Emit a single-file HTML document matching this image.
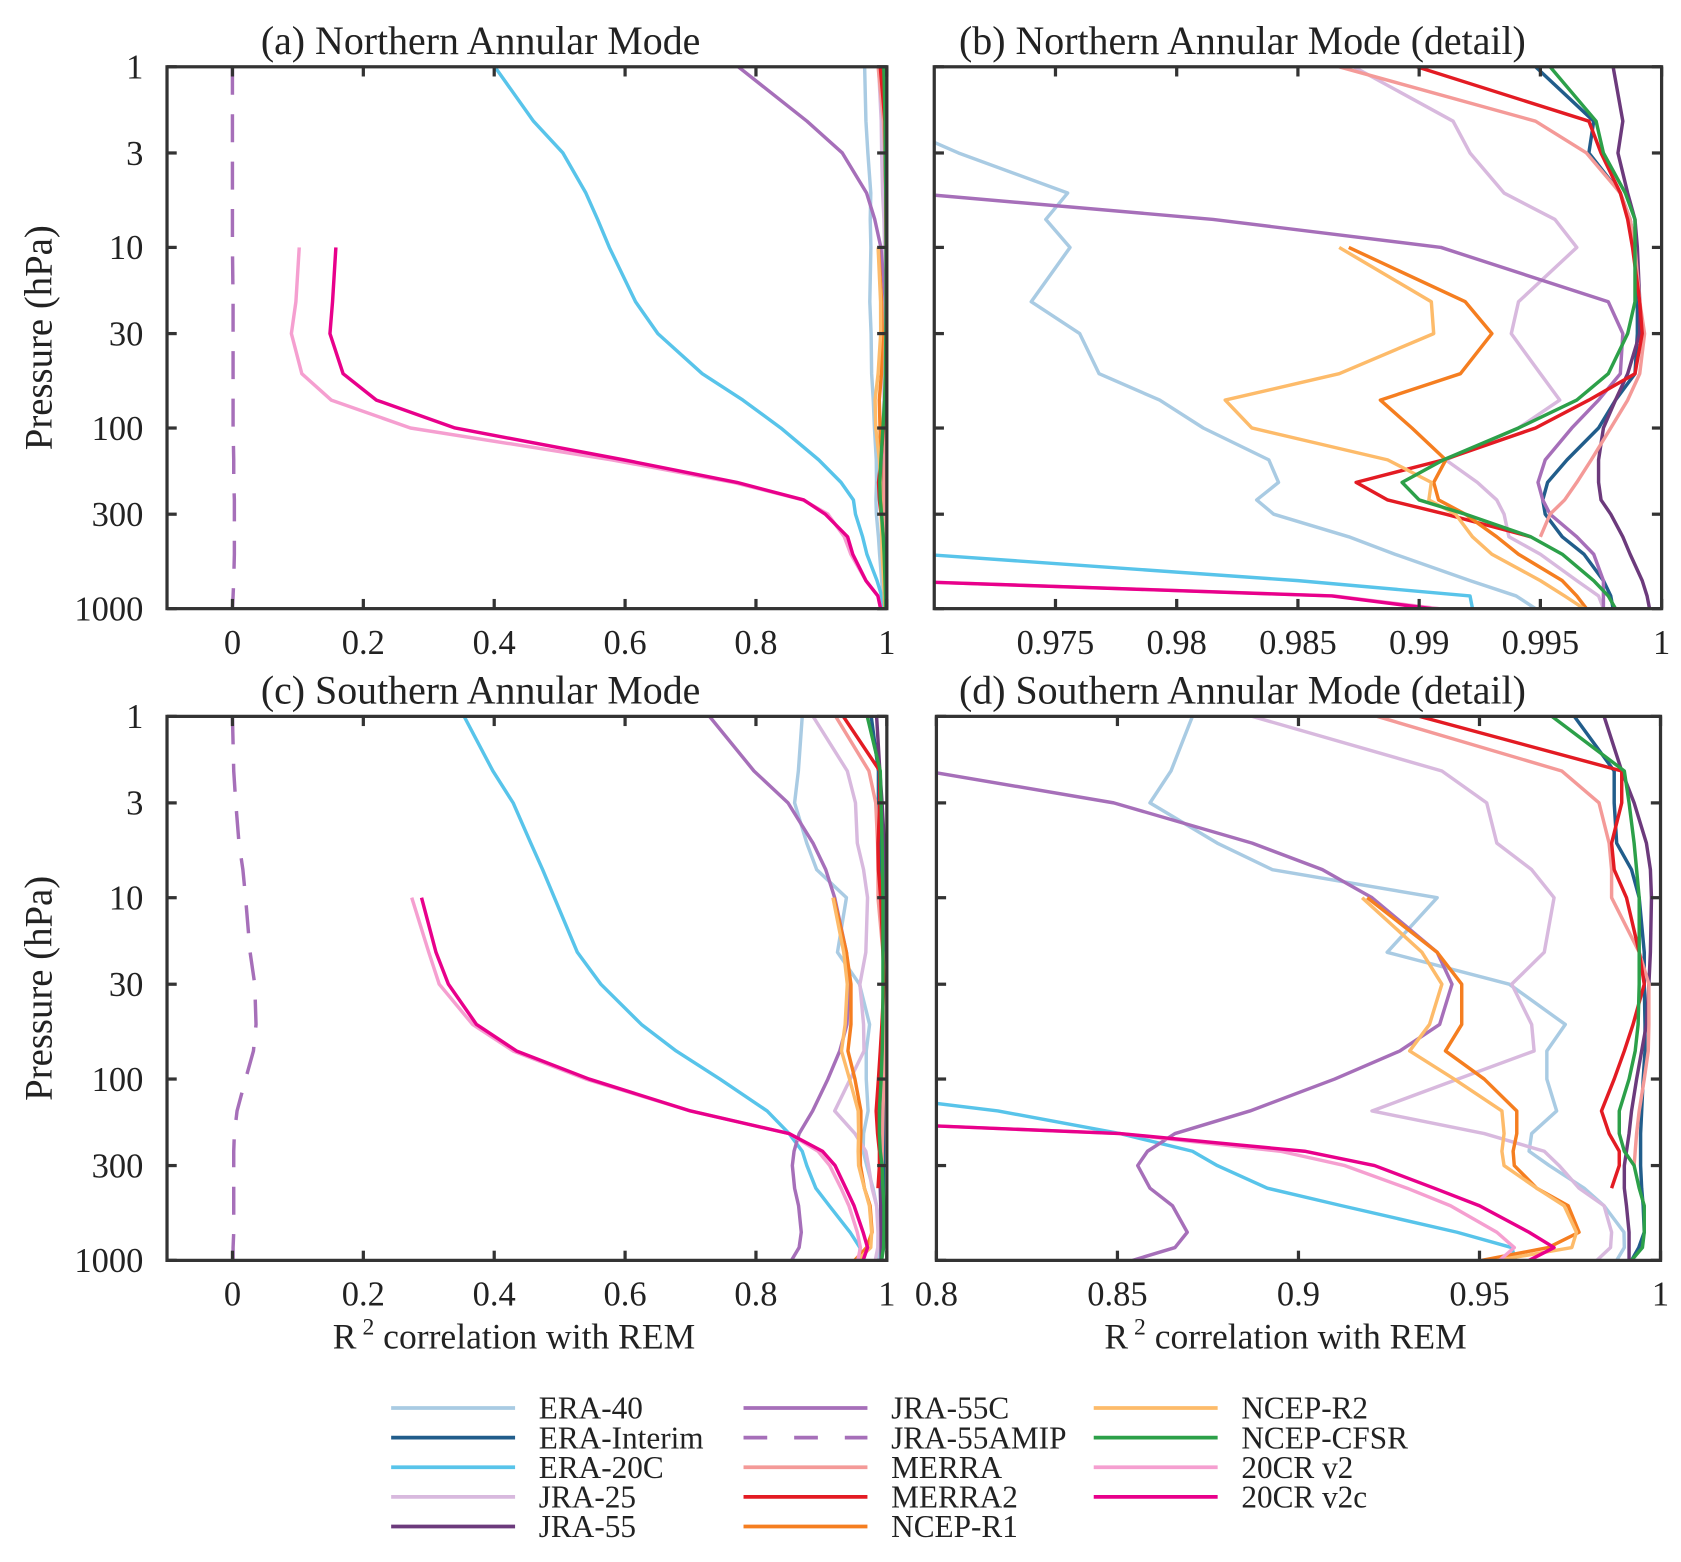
<!DOCTYPE html>
<html><head><meta charset="utf-8"><style>
html,body{margin:0;padding:0;background:#fff;}
svg{display:block;}
text{font-family:"Liberation Serif",serif;fill:#222;}
</style></head>
<body>
<svg id="fig" width="1681" height="1562" viewBox="0 0 1560 1450" preserveAspectRatio="none" xmlns="http://www.w3.org/2000/svg"></svg>
<script>
const levels = [1,2,3,5,7,10,20,30,50,70,100,150,200,250,300,400,500,700,850,1000];
const N = null;
// Northern Annular Mode series
const namERA40 = [0.966,0.968,0.971,0.9755,0.9746,0.9756,0.974,0.976,0.9768,0.9793,0.9811,0.9838,0.9842,0.9833,0.984,0.9871,0.989,0.9921,0.994,0.9948];
const namERAI = [0.9948,0.9972,0.997,0.9983,0.9987,0.9989,0.999,0.999,0.9989,0.9981,0.9974,0.9961,0.9953,0.9951,0.9952,0.9959,0.9968,0.9976,0.9979,0.998];
const namERA20C = [0.401,0.46,0.505,0.54,0.558,0.576,0.616,0.65,0.718,0.78,0.838,0.896,0.93,0.949,0.952,0.963,0.9695,0.985,0.9921,0.9922];
const namJRA25 = [0.9873,0.9914,0.9921,0.9935,0.9956,0.9965,0.9941,0.9938,0.995,0.9958,0.9941,0.9911,0.9924,0.9932,0.9935,0.9937,0.995,0.9965,0.9974,0.9976];
const namJRA55 = [0.998,0.9984,0.9982,0.9986,0.9989,0.999,0.9991,0.9991,0.9986,0.9981,0.9976,0.9974,0.9974,0.9975,0.9979,0.9984,0.9987,0.9992,0.9994,0.9995];
const namJRA55C = [0.773,0.878,0.932,0.969,0.9815,0.9909,0.9978,0.9984,0.9983,0.9974,0.9963,0.9952,0.9949,0.9951,0.9954,0.9965,0.9972,0.9976,0.9976,0.9976];
const namAMIP = [0,0,0,0,0,0,0.001,0.001,0.001,0.001,0.001,0.002,0.002,0.003,0.003,0.003,0.003,0.002,0.001,0];
const namMERRA = [0.9867,0.9948,0.9969,0.9983,0.9987,0.9989,0.9991,0.9993,0.9991,0.9986,0.9979,0.9971,0.9965,0.996,0.9954,0.995,N,N,N,N];
const namMERRA2 = [0.9899,0.997,0.9975,0.9983,0.9986,0.9988,0.9991,0.9992,0.9989,0.997,0.9948,0.991,0.9874,0.9887,0.9911,0.9946,N,N,N,N];
const namNCEPR1 = [N,N,N,N,N,0.9871,0.9919,0.993,0.9917,0.9884,0.9897,0.9911,0.9906,0.9908,0.9919,0.9932,0.9941,0.9959,0.9965,0.9969];
const namNCEPR2 = [N,N,N,N,N,0.9867,0.9905,0.9906,0.9867,0.982,0.9831,0.9887,0.9905,0.9904,0.9915,0.9922,0.993,0.995,0.996,0.9968];
const namCFSR = [0.9954,0.9973,0.9976,0.9985,0.9989,0.9989,0.9989,0.9986,0.9978,0.9965,0.9941,0.991,0.9893,0.99,0.9919,0.9946,0.9959,0.9972,0.9978,0.9981];
const nam20CRv2 = [N,N,N,N,N,0.102,0.097,0.09,0.106,0.151,0.272,0.58,0.765,0.872,0.91,0.935,0.945,0.968,0.9865,0.9908];
const nam20CRv2c = [N,N,N,N,N,0.158,0.153,0.149,0.169,0.22,0.34,0.598,0.771,0.873,0.906,0.94,0.948,0.968,0.9864,0.9905];
// Southern Annular Mode series
const samERA40 = [0.8707,0.8648,0.859,0.8776,0.8928,0.9383,0.9245,0.9582,0.9737,0.9686,0.9686,0.9713,0.9644,0.9637,0.9693,0.9789,0.9844,0.9899,0.99,0.9879];
const samERAI = [0.9762,0.9872,0.9872,0.9879,0.992,0.9941,0.9955,0.9955,0.9957,0.9957,0.9952,0.9948,0.9945,0.9945,0.9945,0.9948,0.9952,0.9955,0.994,0.992];
const samERA20C = [0.354,0.398,0.429,0.456,0.474,0.492,0.527,0.563,0.625,0.678,0.745,0.817,0.8507,0.8707,0.8776,0.8914,0.912,0.9438,0.9589,0.96];
const samJRA25 = [0.8872,0.9396,0.952,0.9548,0.9644,0.9706,0.9679,0.9589,0.9644,0.9651,0.944,0.9203,0.9513,0.9679,0.972,0.9775,0.9844,0.9865,0.9862,0.9824];
const samJRA55 = [0.9844,0.9893,0.9927,0.9961,0.9972,0.9975,0.9972,0.9968,0.9961,0.9948,0.9934,0.992,0.9913,0.9906,0.99,0.99,0.9906,0.9913,0.9913,0.9913];
const samJRA55C = [0.729,0.797,0.849,0.8872,0.9066,0.9203,0.9383,0.9424,0.939,0.928,0.91,0.8866,0.8659,0.8583,0.8556,0.859,0.8652,0.8693,0.8659,0.8542];
const samAMIP = [0,0.002,0.005,0.01,0.016,0.02,0.027,0.034,0.036,0.032,0.02,0.007,0.003,0.002,0.002,0.002,0.002,0.002,0.001,0.001];
const samMERRA = [0.9217,0.9727,0.983,0.9858,0.9865,0.9865,0.9941,0.9968,0.9968,0.9966,0.9955,0.9941,0.9934,0.993,0.9927,N,N,N,N,N];
const samMERRA2 = [0.9334,0.9893,0.9893,0.9865,0.9872,0.9906,0.9941,0.9955,0.9924,0.99,0.9872,0.9837,0.9858,0.9886,0.9886,0.9865,N,N,N,N];
const samNCEPR1 = [N,N,N,N,N,0.919,0.9383,0.9451,0.9451,0.9406,0.9513,0.9603,0.9603,0.9593,0.9596,0.9658,0.9745,0.9775,0.969,0.9507];
const samNCEPR2 = [N,N,N,N,N,0.9176,0.9341,0.9396,0.9362,0.9307,0.943,0.9562,0.9568,0.9562,0.9568,0.9658,0.9734,0.9768,0.9755,0.9548];
const samCFSR = [0.97,0.99,0.9913,0.9927,0.9934,0.9941,0.9941,0.9941,0.9938,0.993,0.9913,0.9886,0.9886,0.99,0.9927,0.9941,0.9955,0.9955,0.995,0.992];
const sam20CRv2 = [N,N,N,N,N,0.274,0.3,0.316,0.367,0.429,0.54,0.70,0.8507,0.895,0.9128,0.93,0.942,0.9548,0.9596,0.9555];
const sam20CRv2c = [N,N,N,N,N,0.289,0.311,0.33,0.373,0.434,0.545,0.70,0.8507,0.9017,0.921,0.9375,0.95,0.9637,0.9706,0.9637];

const seriesNames = ["ERA-40","ERA-Interim","ERA-20C","JRA-25","JRA-55","JRA-55C","JRA-55AMIP","MERRA","MERRA2","NCEP-R1","NCEP-R2","NCEP-CFSR","20CR v2","20CR v2c"];
const seriesColors = ["#a9cbe3","#215d8b","#58c4ea","#d8b9de","#6c3a7c","#a66fb9","#a66fb9","#f49a98","#e31b23","#f57e20","#fdbb6a","#2ca049","#f59fd0","#e8008b"];
const namSeries = [namERA40,namERAI,namERA20C,namJRA25,namJRA55,namJRA55C,namAMIP,namMERRA,namMERRA2,namNCEPR1,namNCEPR2,namCFSR,nam20CRv2,nam20CRv2c];
const samSeries = [samERA40,samERAI,samERA20C,samJRA25,samJRA55,samJRA55C,samAMIP,samMERRA,samMERRA2,samNCEPR1,samNCEPR2,samCFSR,sam20CRv2,sam20CRv2c];
const yTicks = [1,3,10,30,100,300,1000];
const xTicksFull = [0,0.2,0.4,0.6,0.8,1];
const xTickLabelsFull = ["0","0.2","0.4","0.6","0.8","1"];
const xTicksNamDetail = [0.975,0.98,0.985,0.99,0.995,1];
const xTickLabelsNamDetail = ["0.975","0.98","0.985","0.99","0.995","1"];
const xTicksSamDetail = [0.8,0.85,0.9,0.95,1];
const xTickLabelsSamDetail = ["0.8","0.85","0.9","0.95","1"];

const NS = "http://www.w3.org/2000/svg";
const svg = document.getElementById('fig');
function mk(tag, attrs, parent){
  const e = document.createElementNS(NS, tag);
  for (const k in attrs) e.setAttribute(k, attrs[k]);
  (parent||svg).appendChild(e);
  return e;
}

const panels = [
  {id:'a', title:'(a) Northern Annular Mode', tx:446, x0:155, x1:823, y0:62, y1:565, xmin:-0.1, xmax:1, data:namSeries, ticks:xTicksFull, labels:xTickLabelsFull, ylab:true, xtitle:false},
  {id:'b', title:'(b) Northern Annular Mode (detail)', tx:1153, x0:867, x1:1542, y0:62, y1:565, xmin:0.97, xmax:1, data:namSeries, ticks:xTicksNamDetail, labels:xTickLabelsNamDetail, ylab:false, xtitle:false},
  {id:'c', title:'(c) Southern Annular Mode', tx:446, x0:155, x1:823, y0:665, y1:1170, xmin:-0.1, xmax:1, data:samSeries, ticks:xTicksFull, labels:xTickLabelsFull, ylab:true, xtitle:true},
  {id:'d', title:'(d) Southern Annular Mode (detail)', tx:1153, x0:869, x1:1541, y0:665, y1:1170, xmin:0.8, xmax:1, data:samSeries, ticks:xTicksSamDetail, labels:xTickLabelsSamDetail, ylab:false, xtitle:true}
];

const defs = mk('defs', {});
panels.forEach(p => {
  const g = mk('g', {});
  
  
  const xs = v => p.x0 + (v - p.xmin) / (p.xmax - p.xmin) * (p.x1 - p.x0);
  const ys = pr => p.y0 + Math.log10(pr) / 3 * (p.y1 - p.y0);
  const cp = mk('clipPath', {id:'clip-' + p.id}, defs);
  mk('rect', {x:p.x0, y:p.y0, width:p.x1-p.x0, height:p.y1-p.y0}, cp);

  const t = mk('text', {x:p.tx, y:p.y0 - 12, 'text-anchor':'middle', 'font-size':37}, g);
  t.textContent = p.title;
  
  

  const lg = mk('g', {'clip-path':'url(#clip-' + p.id + ')'}, g);
  p.data.forEach((arr, si) => {
    let segs = [], cur = [];
    arr.forEach((v, i) => {
      if (v === null) { if (cur.length) segs.push(cur); cur = []; }
      else cur.push(xs(v).toFixed(1) + ',' + ys(levels[i]).toFixed(1));
    });
    if (cur.length) segs.push(cur);
    segs.forEach(s => {
      const pl = mk('polyline', {points:s.join(' '), fill:'none', stroke:seriesColors[si], 'stroke-width':3.2, 'stroke-linejoin':'round'}, lg);
      if (si === 6) pl.setAttribute('stroke-dasharray', '26 18');
      
      
    });
  });

  const frame = mk('rect', {x:p.x0, y:p.y0, width:p.x1-p.x0, height:p.y1-p.y0, fill:'none', stroke:'#333', 'stroke-width':3}, g);
  
  

  p.ticks.forEach((v, i) => {
    const x = xs(v);
    mk('line', {x1:x, x2:x, y1:p.y1, y2:p.y1-9, stroke:'#333', 'stroke-width':3}, g);
    mk('line', {x1:x, x2:x, y1:p.y0, y2:p.y0+9, stroke:'#333', 'stroke-width':3}, g);
    const tl = mk('text', {x:x, y:p.y1 + 42, 'text-anchor':'middle', 'font-size':32, fill:'#444'}, g);
    tl.textContent = p.labels[i];
    
    
  });
  yTicks.forEach(pr => {
    const y = ys(pr);
    mk('line', {x1:p.x0, x2:p.x0+9, y1:y, y2:y, stroke:'#333', 'stroke-width':3}, g);
    mk('line', {x1:p.x1, x2:p.x1-9, y1:y, y2:y, stroke:'#333', 'stroke-width':3}, g);
    if (p.ylab) {
      const yl = mk('text', {x:p.x0 - 22, y:y + 11, 'text-anchor':'end', 'font-size':32, fill:'#333'}, g);
      yl.textContent = String(pr);
      
      
    }
  });
  if (p.ylab) {
    const cy = (p.y0 + p.y1) / 2;
    const yt = mk('text', {x:0, y:0, 'text-anchor':'middle', 'font-size':36, transform:'translate(48,' + cy + ') rotate(-90)'}, g);
    yt.textContent = 'Pressure (hPa)';
    
    
  }
  if (p.xtitle) {
    const xt = mk('text', {x:(p.x0+p.x1)/2 - 12, y:p.y1 + 82, 'text-anchor':'middle', 'font-size':33, fill:'#444'}, g);
    xt.innerHTML = 'R<tspan dy="-13" font-size="22"> 2</tspan><tspan dy="13"> correlation with REM</tspan>';
    
    
  }
});

// legend
const legend = mk('g', {});


const colX = [363, 690, 1015];
seriesNames.forEach((name, i) => {
  const col = i < 5 ? 0 : (i < 10 ? 1 : 2);
  const row = i < 5 ? i : (i < 10 ? i - 5 : i - 10);
  const y = 1307 + row * 27.5;
  const x = colX[col];
  const e = mk('g', {}, legend);
  
  
  const ln = mk('line', {x1:x, x2:x+115, y1:y, y2:y, stroke:seriesColors[i], 'stroke-width':3.5}, e);
  if (i === 6) ln.setAttribute('stroke-dasharray', '22 25');
  const tx = mk('text', {x:x+137, y:y+10, 'font-size':29}, e);
  tx.textContent = name;
});
</script>
</body></html>
